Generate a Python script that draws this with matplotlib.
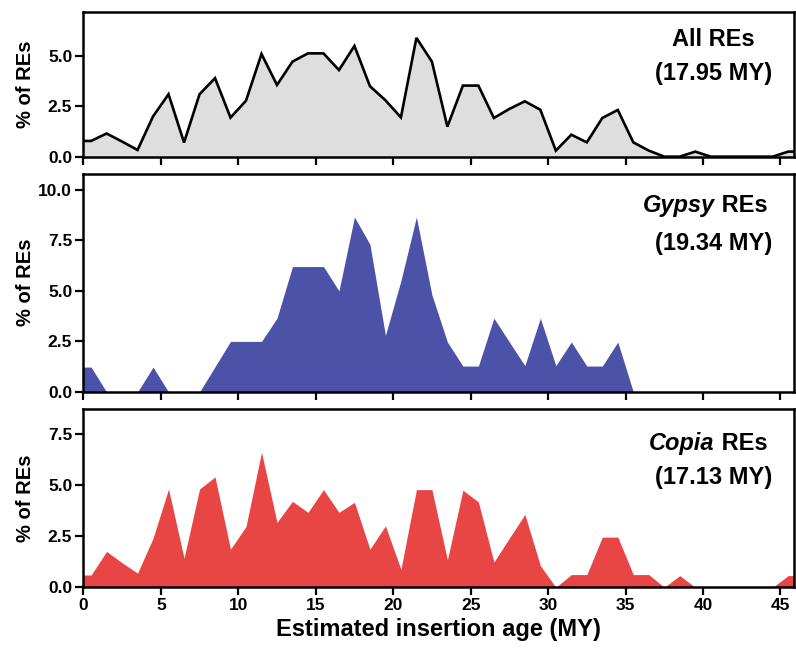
import numpy as np
import matplotlib
matplotlib.use('Agg')
import matplotlib.pyplot as plt

plt.rcParams['font.family'] = ['Liberation Sans', 'DejaVu Sans']
plt.rcParams['font.weight'] = 'bold'

# bin centres (MY)
ages = [0.5, 1.5, 2.5, 3.5, 4.5, 5.5, 6.5, 7.5, 8.5, 9.5,
        10.5, 11.5, 12.5, 13.5, 14.5, 15.5, 16.5, 17.5, 18.5, 19.5,
        20.5, 21.5, 22.5, 23.5, 24.5, 25.5, 26.5, 27.5, 28.5, 29.5,
        30.5, 31.5, 32.5, 33.5, 34.5, 35.5, 36.5, 37.5, 38.5, 39.5,
        40.5, 41.5, 42.5, 43.5, 44.5, 45.5]

all_res = [0.78, 1.15, 0.75, 0.33, 2.0, 3.1, 0.7, 3.1, 3.9, 1.94,
           2.78, 5.1, 3.56, 4.72, 5.13, 5.13, 4.3, 5.5, 3.5, 2.8,
           1.95, 5.9, 4.72, 1.49, 3.53, 3.53, 1.92, 2.37, 2.75, 2.33,
           0.3, 1.09, 0.71, 1.92, 2.32, 0.71, 0.3, 0.0, 0.0, 0.25,
           0.0, 0.0, 0.0, 0.0, 0.0, 0.25]

gypsy = [1.23, 0.0, 0.0, 0.0, 1.23, 0.0, 0.0, 0.0, 1.25, 2.5,
         2.5, 2.5, 3.65, 6.2, 6.2, 6.2, 5.0, 8.65, 7.3, 2.8,
         5.5, 8.65, 4.8, 2.47, 1.28, 1.28, 3.65, 2.47, 1.3, 3.65,
         1.3, 2.47, 1.28, 1.28, 2.47, 0.0, 0.0, 0.0, 0.0, 0.0,
         0.0, 0.0, 0.0, 0.0, 0.0, 0.0]

copia = [0.6, 1.75, 1.2, 0.69, 2.4, 4.8, 1.42, 4.8, 5.39, 1.86,
         2.97, 6.6, 3.17, 4.2, 3.66, 4.77, 3.66, 4.15, 1.86, 3.0,
         0.88, 4.77, 4.77, 1.34, 4.74, 4.17, 1.23, 2.4, 3.56, 1.06,
         0.0, 0.62, 0.62, 2.45, 2.45, 0.62, 0.62, 0.0, 0.57, 0.0,
         0.0, 0.0, 0.0, 0.0, 0.0, 0.57]

labels = ['All', 'Gypsy', 'Copia']
mean_ages = ['17.95', '19.34', '17.13']
colors = ['#dedede', '#4b52a8', '#e84545']
ylims = [7.2, 10.8, 8.7]
yticks = [[0, 2.5, 5.0], [0, 2.5, 5.0, 7.5, 10.0], [0, 2.5, 5.0, 7.5]]
xmax = 45.9

fig = plt.figure(figsize=(7.96, 6.5), dpi=100)
rects = [[0.1047, 0.759, 0.8933, 0.223],
         [0.1047, 0.397, 0.8933, 0.336],
         [0.1047, 0.0965, 0.8933, 0.274]]
text_y = [(0.805, 0.577), (0.855, 0.681), (0.81, 0.614)]

series = [all_res, gypsy, copia]
for i in range(3):
    ax = fig.add_axes(rects[i])
    # extend the first / last bin flat to the axis edges
    x = np.r_[0, ages, xmax]
    y = np.r_[series[i][0], series[i], series[i][-1]]
    ax.fill_between(x, 0, y, color=colors[i], linewidth=0)
    if i == 0:
        ax.plot(x, y, color='black', lw=1.9, solid_joinstyle='miter')
    ax.set_xlim(0, xmax)
    ax.set_ylim(0, ylims[i])
    ax.set_xticks(range(0, 46, 5))
    ax.set_yticks(yticks[i])
    ax.set_yticklabels(['%.1f' % v for v in yticks[i]])
    for s in ax.spines.values():
        s.set_linewidth(1.8)
    ax.tick_params(direction='out', length=6, width=1.6, labelsize=12.5, pad=2)
    ax.set_ylabel('% of REs', fontsize=14.5, fontweight='bold')
    ax.yaxis.set_label_coords(-0.068, 0.5)
    if i < 2:
        ax.tick_params(axis='x', labelbottom=False)
    else:
        ax.set_xlabel('Estimated insertion age (MY)', fontsize=17,
                      fontweight='bold', labelpad=3)

    ty1, ty2 = text_y[i]
    if i == 0:
        ax.text(0.886, ty1, 'All REs', transform=ax.transAxes, ha='center',
                va='center', fontsize=17, fontweight='bold')
    else:
        ax.text(0.888, ty1, labels[i], transform=ax.transAxes, ha='right',
                va='center', fontsize=17, fontweight='bold', style='italic')
        ax.text(0.888, ty1, ' REs', transform=ax.transAxes, ha='left',
                va='center', fontsize=17, fontweight='bold')
    ax.text(0.886, ty2, '(%s MY)' % mean_ages[i], transform=ax.transAxes,
            ha='center', va='center', fontsize=17, fontweight='bold')

fig.savefig('out.png', dpi=100)
